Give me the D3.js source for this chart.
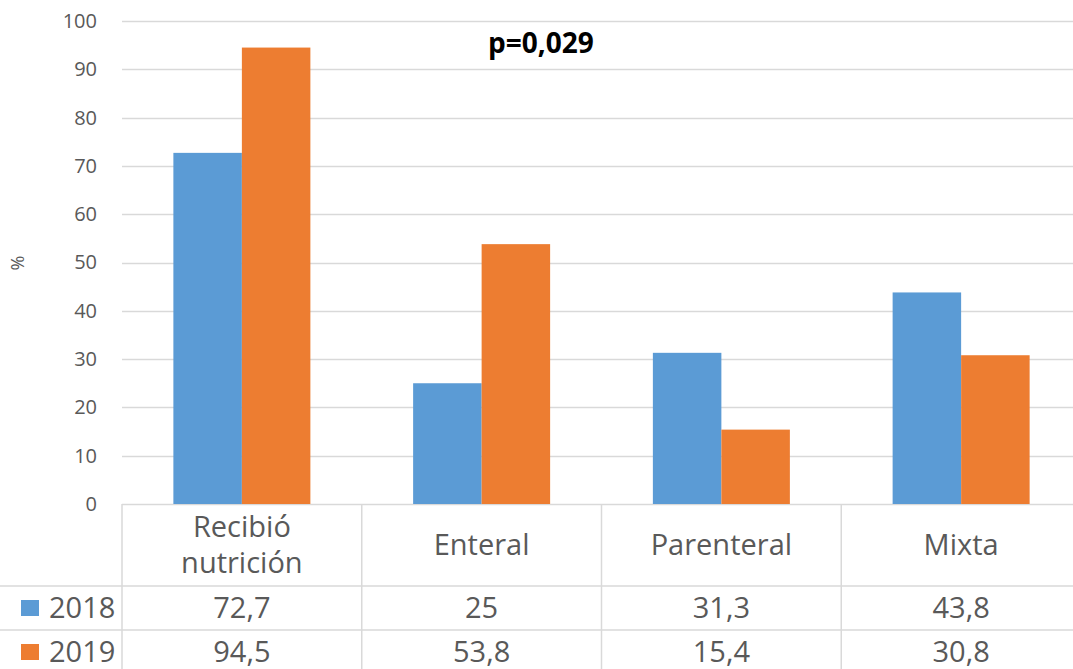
<!DOCTYPE html>
<html>
<head>
<meta charset="utf-8">
<script src="https://cdn.jsdelivr.net/npm/d3@7"></script>
<style>
  html, body { margin: 0; padding: 0; background: #fff; }
  svg { display: block; font-family: "Open Sans", "Noto Sans", sans-serif; }
</style>
</head>
<body>
<svg id="chart" width="1073" height="669"></svg>
<script>
// Nutrition support by year (%), with data table under the axis
const categories = [["Recibió", "nutrición"], ["Enteral"], ["Parenteral"], ["Mixta"]];
const seriesNames = ["2018", "2019"];
const values2018 = [72.7, 25, 31.3, 43.8];
const values2019 = [94.5, 53.8, 15.4, 30.8];
const tableText2018 = ["72,7", "25", "31,3", "43,8"];
const tableText2019 = ["94,5", "53,8", "15,4", "30,8"];
const yTicks = [0, 10, 20, 30, 40, 50, 60, 70, 80, 90, 100];
const pValueText = "p=0,029";

const colors = { "2018": "#5B9BD5", "2019": "#ED7D31" };
const gridColor = "#D9D9D9";
const textColor = "#595959";

const svg = d3.select("#chart");
const W = 1073, H = 669;
const plot = { left: 122, right: 1081, top: 21, bottom: 504 };
const rowHeader = 586, row1 = 630, row2 = 674;

const catKeys = categories.map(c => c.join(" "));
const x0 = d3.scaleBand().domain(catKeys).range([plot.left, plot.right]).padding(0);
const bw = x0.bandwidth();
const gap = bw * 0.75 / 3.5;
const x1 = d3.scaleBand().domain(seriesNames).range([gap, bw - gap]).padding(0);
const y = d3.scaleLinear().domain([0, 100]).range([plot.bottom, plot.top]);

// horizontal gridlines
svg.append("g")
  .selectAll("line")
  .data(yTicks)
  .join("line")
  .attr("x1", plot.left).attr("x2", W)
  .attr("y1", d => Math.round(y(d)) + 0.5).attr("y2", d => Math.round(y(d)) + 0.5)
  .attr("stroke", gridColor).attr("stroke-width", 1.5);

// y axis labels
const yAxis = d3.axisLeft(y).tickValues(yTicks).tickSize(0).tickPadding(0);
const gy = svg.append("g").attr("transform", `translate(97,0)`).call(yAxis);
gy.select(".domain").remove();
gy.selectAll("text")
  .attr("fill", textColor)
  .attr("font-size", 20)
  .attr("font-family", "'Open Sans', sans-serif");

// axis title
svg.append("text")
  .attr("transform", "translate(24,263) rotate(-90)")
  .attr("text-anchor", "middle")
  .attr("fill", textColor)
  .attr("font-size", 18)
  .text("%");

// bars
const rows = [values2018, values2019];
seriesNames.forEach((s, si) => {
  svg.append("g")
    .selectAll("rect")
    .data(catKeys.map((k, i) => ({ k, v: rows[si][i] })))
    .join("rect")
    .attr("x", d => x0(d.k) + x1(s))
    .attr("width", x1.bandwidth())
    .attr("y", d => y(d.v))
    .attr("height", d => y(0) - y(d.v))
    .attr("fill", colors[s]);
});

// p-value annotation
svg.append("text")
  .attr("x", 541).attr("y", 53)
  .attr("text-anchor", "middle")
  .attr("font-weight", "bold")
  .attr("font-size", 28)
  .attr("fill", "#000")
  .text(pValueText);

// data table grid
const tbl = svg.append("g").attr("stroke", gridColor).attr("stroke-width", 1.5);
[plot.left, ...catKeys.slice(1).map(k => x0(k))].forEach(xx => {
  tbl.append("line").attr("x1", xx).attr("x2", xx).attr("y1", plot.bottom).attr("y2", H);
});
[rowHeader, row1].forEach(yy => {
  tbl.append("line").attr("x1", 0).attr("x2", W).attr("y1", yy).attr("y2", yy);
});

// category headers
const headerMid = (plot.bottom + rowHeader) / 2;
const lineH = 36;
const tableFont = 29;
categories.forEach((lines, i) => {
  const cx = x0(catKeys[i]) + bw / 2;
  const t = svg.append("text")
    .attr("text-anchor", "middle")
    .attr("fill", textColor)
    .attr("font-size", tableFont);
  lines.forEach((ln, j) => {
    t.append("tspan")
      .attr("x", cx)
      .attr("y", headerMid + (j - (lines.length - 1) / 2) * lineH)
      .attr("dy", "0.35em")
      .text(ln);
  });
});

// table value rows with legend keys
const tableRows = [
  { name: seriesNames[0], texts: tableText2018, top: rowHeader, bottom: row1 },
  { name: seriesNames[1], texts: tableText2019, top: row1, bottom: row2 }
];
tableRows.forEach(r => {
  const mid = (r.top + r.bottom) / 2;
  svg.append("rect")
    .attr("x", 21).attr("y", mid - 8)
    .attr("width", 18).attr("height", 16)
    .attr("fill", colors[r.name]);
  svg.append("text")
    .attr("x", 49).attr("y", mid).attr("dy", "0.35em")
    .attr("fill", textColor).attr("font-size", tableFont)
    .text(r.name);
  r.texts.forEach((tx, i) => {
    svg.append("text")
      .attr("x", x0(catKeys[i]) + bw / 2).attr("y", mid).attr("dy", "0.35em")
      .attr("text-anchor", "middle")
      .attr("fill", textColor).attr("font-size", tableFont)
      .text(tx);
  });
});
</script>
</body>
</html>
